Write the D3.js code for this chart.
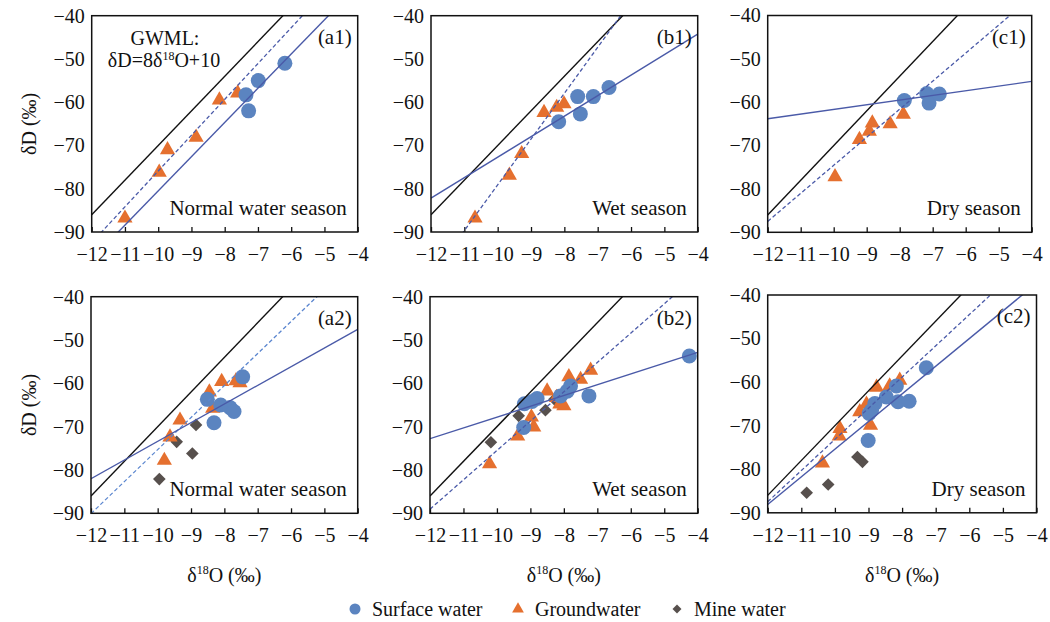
<!DOCTYPE html>
<html><head><meta charset="utf-8">
<script src="https://cdn.jsdelivr.net/npm/d3@7"></script>
<style>body{margin:0;background:#fff} svg text{font-family:"Liberation Serif","Tinos","Times New Roman","DejaVu Serif",serif !important;fill:#111}</style>
</head><body><svg id="c" width="1050" height="622"></svg>
<script>
// ---------------- data ----------------
const xTicks = [-12,-11,-10,-9,-8,-7,-6,-5,-4];
const yTicks = [-40,-50,-60,-70,-80,-90];
const panelLabels = ["(a1)","(b1)","(c1)","(a2)","(b2)","(c2)"];
const seasonNames = ["Normal water season","Wet season","Dry season","Normal water season","Wet season","Dry season"];
const gwmlFit = [8, 10];
const surfaceFit = [[7.91,-1.4],[4.74,-25.3],[1.075,-50.9],[4.31,-30.3],[2.49,-42.9],[6.35,-11.9]];
const groundFit  = [[8.28,6.9],[10.59,26.8],[6.47,-9.85],[7.39,-1.4],[6.77,-7.8],[7.16,-1.55]];

const surfaceA1 = [[-6.19,-51.0],[-6.99,-55.0],[-7.36,-58.3],[-7.28,-62.0]];
const groundA1  = [[-11.0,-86.8],[-9.97,-76.2],[-9.72,-71.0],[-8.86,-68.1],[-8.16,-59.5],[-7.61,-57.9]];
const surfaceB1 = [[-6.66,-56.6],[-7.6,-58.7],[-7.13,-58.7],[-7.52,-62.7],[-8.17,-64.5]];
const groundB1  = [[-10.68,-86.8],[-9.65,-76.9],[-9.28,-71.9],[-8.61,-62.4],[-8.23,-61.2],[-8.01,-60.4]];
const surfaceC1 = [[-7.86,-59.6],[-7.18,-58.0],[-7.11,-60.2],[-6.80,-58.1]];
const groundC1  = [[-9.96,-77.2],[-9.22,-68.6],[-8.92,-66.7],[-8.83,-64.8],[-8.29,-65.0],[-7.89,-62.8]];
const surfaceA2 = [[-7.45,-58.5],[-8.51,-63.7],[-8.11,-65.0],[-7.83,-65.6],[-7.71,-66.5],[-8.31,-69.1]];
const groundA2  = [[-9.8,-77.8],[-9.63,-72.4],[-9.33,-68.5],[-8.45,-62.0],[-8.35,-65.8],[-8.08,-59.6],[-7.65,-59.4],[-7.53,-59.9]];
const mineA2    = [[-9.95,-82.1],[-9.43,-73.5],[-8.96,-76.2],[-8.85,-69.6]];
const surfaceB2 = [[-4.25,-53.7],[-9.18,-64.7],[-8.8,-63.5],[-8.95,-64.2],[-9.2,-70.2],[-8.1,-62.9],[-7.8,-60.6],[-7.9,-61.8],[-7.25,-62.9]];
const groundB2  = [[-10.22,-78.6],[-9.38,-72.2],[-8.97,-67.8],[-8.9,-70.1],[-8.5,-61.8],[-8.22,-63.3],[-8.12,-64.8],[-8.0,-65.2],[-7.85,-58.5],[-7.5,-59.1],[-7.2,-57.0]];
const mineB2    = [[-10.18,-73.6],[-9.35,-67.5],[-8.55,-66.2],[-8.28,-63.7]];
const surfaceC2 = [[-7.28,-56.7],[-8.17,-60.9],[-8.47,-63.4],[-8.12,-64.5],[-7.79,-64.4],[-8.81,-64.9],[-8.91,-66.5],[-8.98,-67.2],[-9.01,-73.4]];
const groundC2  = [[-10.37,-78.6],[-9.85,-70.7],[-9.87,-72.4],[-9.26,-66.8],[-9.06,-65.1],[-8.94,-69.9],[-8.76,-61.2],[-8.37,-60.9],[-8.07,-59.6]];
const mineC2    = [[-10.84,-85.4],[-10.2,-83.5],[-9.33,-77.2],[-9.18,-78.3]];

const surfaceSets = [surfaceA1,surfaceB1,surfaceC1,surfaceA2,surfaceB2,surfaceC2];
const groundSets  = [groundA1,groundB1,groundC1,groundA2,groundB2,groundC2];
const mineSets    = [[],[],[],mineA2,mineB2,mineC2];
const legendLabels = ["Surface water","Groundwater","Mine water"];

// ---------------- layout ----------------
const boxes = [
  {l:91.7,r:357.7,t:15.7,b:232},
  {l:431,r:697.7,t:15.7,b:232},
  {l:767.7,r:1031.7,t:15.5,b:232.3},
  {l:91,r:357.7,t:296.7,b:513.3},
  {l:430,r:697.7,t:296.7,b:513.3},
  {l:767.7,r:1036.5,t:295,b:512.8}
];
const C_SURF = "#5b84c0", C_GRD = "#e5702f", C_MINE = "#57504d", C_FIT = "#4a5aa8";
const FONT = 20;
const SERIF = '"Liberation Serif","Tinos","Times New Roman","DejaVu Serif",serif';

const svg = d3.select("#c").attr("font-family",SERIF);
const defs = svg.append("defs");
const triangle = d3.symbol().type(d3.symbolTriangle).size(100);
const diamond = d3.symbol().type(d3.symbolSquare).size(80);

boxes.forEach((bx,i)=>{
  const x = d3.scaleLinear().domain([-12,-4]).range([bx.l,bx.r]);
  const y = d3.scaleLinear().domain([-90,-40]).range([bx.b,bx.t]);
  const g = svg.append("g");
  defs.append("clipPath").attr("id","clip"+i).append("rect")
    .attr("x",bx.l).attr("y",bx.t).attr("width",bx.r-bx.l).attr("height",bx.b-bx.t);

  // axes
  const xa = g.append("g").attr("transform",`translate(0,${bx.b})`)
    .call(d3.axisBottom(x).tickValues(xTicks).tickSize(-5).tickPadding(15).tickFormat(d3.format("d")));
  xa.attr("font-family",SERIF).attr("font-size",FONT);
  xa.select(".domain").remove();
  xa.selectAll("line").attr("stroke","#111").attr("stroke-width",1.3);
  xa.selectAll("text").attr("fill","#111");
  const ya = g.append("g").attr("transform",`translate(${bx.l},0)`)
    .call(d3.axisLeft(y).tickValues(yTicks).tickSize(0).tickPadding(7).tickFormat(d3.format("d")));
  ya.attr("font-family",SERIF).attr("font-size",FONT);
  ya.select(".domain").remove();
  ya.selectAll("text").attr("fill","#111");

  const pg = g.append("g").attr("clip-path",`url(#clip${i})`);
  // markers
  pg.selectAll(".m").data(mineSets[i]).join("path")
    .attr("d",diamond).attr("fill",C_MINE)
    .attr("transform",d=>`translate(${x(d[0])},${y(d[1])}) rotate(45)`);
  pg.selectAll(".g").data(groundSets[i]).join("path")
    .attr("d",triangle).attr("fill",C_GRD)
    .attr("transform",d=>`translate(${x(d[0])},${y(d[1])})`);
  pg.selectAll(".s").data(surfaceSets[i]).join("circle")
    .attr("cx",d=>x(d[0])).attr("cy",d=>y(d[1])).attr("r",7.5).attr("fill",C_SURF);

  // lines
  const fitLine = (f)=>[[-12, f[0]*-12+f[1]],[-4, f[0]*-4+f[1]]];
  const line = d3.line().x(d=>x(d[0])).y(d=>y(d[1]));
  pg.append("path").attr("d",line(fitLine(gwmlFit))).attr("stroke","#111").attr("stroke-width",1.4).attr("fill","none");
  pg.append("path").attr("d",line(fitLine(groundFit[i]))).attr("stroke",i===3?"#5b86cf":C_FIT).attr("stroke-width",1.3)
    .attr("stroke-dasharray","4,2.5").attr("fill","none");
  pg.append("path").attr("d",line(fitLine(surfaceFit[i]))).attr("stroke",C_FIT).attr("stroke-width",1.4).attr("fill","none");

  // frame
  g.append("rect").attr("x",bx.l).attr("y",bx.t).attr("width",bx.r-bx.l).attr("height",bx.b-bx.t)
    .attr("fill","none").attr("stroke","#111").attr("stroke-width",1.5);

  // labels
  g.append("text").attr("x",bx.r-6).attr("y",bx.t+28).attr("text-anchor","end").attr("font-size",21).text(panelLabels[i]);
  g.append("text").attr("x",bx.r-11).attr("y",bx.b-17).attr("text-anchor","end").attr("font-size",21).text(seasonNames[i]);

  if (i===0){
    g.append("text").attr("x",165).attr("y",45).attr("text-anchor","middle").attr("font-size",20).text("GWML:");
    const t = g.append("text").attr("x",164).attr("y",67).attr("text-anchor","middle").attr("font-size",20);
    t.append("tspan").text("δD=8δ");
    t.append("tspan").attr("font-size",12).attr("dy",-7).text("18");
    t.append("tspan").attr("dy",7).text("O+10");
  }
  if (i%3===0){
    g.append("text").attr("transform",`translate(36,${(bx.t+bx.b)/2}) rotate(-90)`).attr("text-anchor","middle")
      .attr("font-size",FONT).text("δD (‰)");
  }
  if (i>=3){
    const t = g.append("text").attr("x",(bx.l+bx.r)/2).attr("y",582).attr("text-anchor","middle").attr("font-size",FONT);
    t.append("tspan").text("δ");
    t.append("tspan").attr("font-size",12).attr("dy",-8).text("18");
    t.append("tspan").attr("dy",8).text("O (‰)");
  }
});

// legend
const lg = svg.append("g");
const legendX = [355, 518, 677];
lg.append("circle").attr("cx",legendX[0]).attr("cy",609).attr("r",5.5).attr("fill",C_SURF);
lg.append("path").attr("d",d3.symbol().type(d3.symbolTriangle).size(60)).attr("fill",C_GRD).attr("transform",`translate(${legendX[1]},609)`);
lg.append("path").attr("d",d3.symbol().type(d3.symbolSquare).size(40)).attr("fill",C_MINE).attr("transform",`translate(${legendX[2]},609) rotate(45)`);
legendLabels.forEach((s,k)=>{
  lg.append("text").attr("x",legendX[k]+17).attr("y",616).attr("font-size",FONT).text(s);
});
</script></body></html>
